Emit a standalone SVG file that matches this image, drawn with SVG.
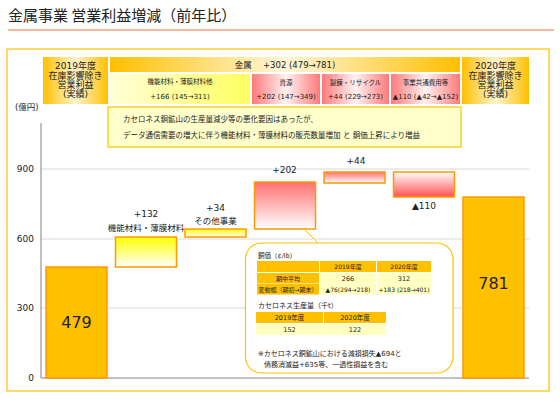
<svg xmlns="http://www.w3.org/2000/svg" width="560" height="416" viewBox="0 0 560 416">
<defs>
<linearGradient id="gGold" x1="0" y1="0" x2="1" y2="0"><stop offset="0" stop-color="#FFC000"/><stop offset="0.5" stop-color="#FFF4D0"/><stop offset="1" stop-color="#FFC000"/></linearGradient>
<linearGradient id="gMetal" x1="0" y1="0" x2="1" y2="0"><stop offset="0" stop-color="#FFC000"/><stop offset="0.5" stop-color="#FFF6DA"/><stop offset="1" stop-color="#FFC000"/></linearGradient>
<linearGradient id="gYelH" x1="0" y1="0" x2="1" y2="0"><stop offset="0" stop-color="#FFFFD8"/><stop offset="1" stop-color="#FFFF60"/></linearGradient>
<linearGradient id="gRedH" x1="0" y1="0" x2="1" y2="0"><stop offset="0" stop-color="#FF7A7A"/><stop offset="0.5" stop-color="#FFF2F2"/><stop offset="1" stop-color="#FF7A7A"/></linearGradient>
<linearGradient id="gYelV" x1="0" y1="0" x2="0" y2="1"><stop offset="0" stop-color="#FFFF00"/><stop offset="1" stop-color="#FFFFFF"/></linearGradient>
<linearGradient id="gRedV" x1="0" y1="0" x2="0" y2="1"><stop offset="0" stop-color="#FF7070"/><stop offset="1" stop-color="#FFFFFF"/></linearGradient>
<linearGradient id="gRedVU" x1="0" y1="0" x2="0" y2="1"><stop offset="0" stop-color="#FFFFFF"/><stop offset="1" stop-color="#FF5050"/></linearGradient>
</defs>
<style>
text{font-family:"DejaVu Sans","Noto Sans CJK JP",sans-serif;fill:#222}
.c{text-anchor:middle}
.r{text-anchor:end}
.bar{stroke:#FF9900;stroke-width:1.5}
.grid{stroke:#D9D9D9;stroke-width:1}
.cellO{fill:#FFC000}
.cellY{fill:#FFFFC0}
</style>
<rect width="560" height="416" fill="#FFFFFF"/>
<g id="title">
<text x="8" y="21" style="font-size:15px;font-family:'Noto Sans CJK JP',sans-serif">金属事業 営業利益増減（前年比）</text>
<line x1="8" y1="30" x2="554" y2="30" stroke="#F4A07A" stroke-width="1.5"/>
</g>
<rect id="frame" x="7" y="49" width="542" height="342" fill="none" stroke="#FFC000" stroke-width="1.2"/>
<g id="axes">
<line class="grid" x1="41" y1="308" x2="529" y2="308"/>
<line class="grid" x1="41" y1="239" x2="529" y2="239"/>
<line class="grid" x1="41" y1="169" x2="529" y2="169"/>
<line x1="41" y1="123" x2="41" y2="378" stroke="#808080" stroke-width="1"/>
<line x1="41" y1="378" x2="529" y2="378" stroke="#808080" stroke-width="1"/>
<text x="34" y="172" class="r" style="font-size:9px">900</text>
<text x="34" y="242" class="r" style="font-size:9px">600</text>
<text x="34" y="311" class="r" style="font-size:9px">300</text>
<text x="34" y="381" class="r" style="font-size:9px">0</text>
<text x="15" y="110" style="font-size:8.5px">(億円)</text>
</g>
<g id="hdr2019">
<rect x="43" y="57" width="65" height="47" fill="url(#gGold)"/>
<text x="75.5" y="69" class="c" style="font-size:9px">2019年度</text>
<text x="75.5" y="79" class="c" style="font-size:9px">在庫影響除き</text>
<text x="75.5" y="88" class="c" style="font-size:9px">営業利益</text>
<text x="75.5" y="97" class="c" style="font-size:9px">(実績)</text>
</g>
<g id="hdrMetal">
<rect x="110" y="57" width="350" height="15" fill="url(#gMetal)"/>
<text x="285" y="68" class="c" style="font-size:8.5px">金属　 +302 (479→781)</text>
</g>
<g id="hdrFunc">
<rect x="110" y="74" width="140" height="30" fill="url(#gYelH)"/>
<text x="180" y="84" class="c" style="font-size:6.5px">機能材料・薄膜材料他</text>
<text x="180" y="99" class="c" style="font-size:7px">+166 (145→311)</text>
</g>
<g id="hdrRes">
<rect x="252" y="74" width="68" height="30" fill="url(#gRedH)"/>
<text x="286" y="85" class="c" style="font-size:6.5px">資源</text>
<text x="286" y="99" class="c" style="font-size:7px">+202 (147→349)</text>
</g>
<g id="hdrSmelt">
<rect x="322" y="74" width="67" height="30" fill="url(#gRedH)"/>
<text x="355.5" y="85" class="c" style="font-size:6.5px">製錬・リサイクル</text>
<text x="355.5" y="99" class="c" style="font-size:7px">+44 (229→273)</text>
</g>
<g id="hdrCommon">
<rect x="391" y="74" width="69" height="30" fill="url(#gRedH)"/>
<text x="425.5" y="85" class="c" style="font-size:6.5px">事業共通費用等</text>
<text x="425.5" y="99" class="c" style="font-size:7px">▲110 (▲42→▲152)</text>
</g>
<g id="hdr2020">
<rect x="462" y="57" width="67" height="47" fill="url(#gGold)"/>
<text x="495.5" y="69" class="c" style="font-size:9px">2020年度</text>
<text x="495.5" y="79" class="c" style="font-size:9px">在庫影響除き</text>
<text x="495.5" y="88" class="c" style="font-size:9px">営業利益</text>
<text x="495.5" y="97" class="c" style="font-size:9px">(実績)</text>
</g>
<g id="note">
<rect x="108" y="107" width="353" height="40" fill="#FFFFCC" stroke="#FFC000" stroke-width="1.2"/>
<text x="123" y="122" style="font-size:7.5px">カセロネス銅鉱山の生産量減少等の悪化要因はあったが、</text>
<text x="123" y="138" style="font-size:7.5px">データ通信需要の増大に伴う機能材料・薄膜材料の販売数量増加 と 銅価上昇により増益</text>
</g>
<g id="bar2019">
<rect class="bar" x="46" y="267" width="61" height="111" fill="#FFC000"/>
<text x="76.5" y="328" class="c" style="font-size:16px">479</text>
</g>
<g id="barFunc">
<rect class="bar" x="115.5" y="237" width="61" height="30" fill="url(#gYelV)"/>
<text x="146" y="217" class="c" style="font-size:9px">+132</text>
<text x="146" y="231" class="c" style="font-size:8.5px">機能材料・薄膜材料</text>
</g>
<g id="barOther">
<rect class="bar" x="185" y="229" width="61" height="8" fill="url(#gYelV)"/>
<text x="215.5" y="211" class="c" style="font-size:9px">+34</text>
<text x="215.5" y="224" class="c" style="font-size:8.5px">その他事業</text>
</g>
<g id="barRes">
<rect class="bar" x="254.5" y="182" width="61" height="47" fill="url(#gRedV)"/>
<text x="284.5" y="173" class="c" style="font-size:9px">+202</text>
</g>
<g id="barSmelt">
<rect class="bar" x="324" y="172" width="61" height="11" fill="url(#gRedV)"/>
<text x="356" y="164" class="c" style="font-size:9px">+44</text>
</g>
<g id="barCommon">
<rect class="bar" x="393.5" y="172" width="61" height="25" fill="url(#gRedVU)"/>
<text x="424" y="209" class="c" style="font-size:9px">▲110</text>
</g>
<g id="bar2020">
<rect class="bar" x="463" y="197" width="61" height="181" fill="#FFC000"/>
<text x="493.5" y="289" class="c" style="font-size:16px">781</text>
</g>
<g id="connectors">
<line x1="304" y1="229" x2="318" y2="243" stroke="#FFC000" stroke-width="1"/>
</g>
<g id="callout">
<rect x="245.5" y="243" width="207.5" height="130" rx="16" fill="#FFFFFF" stroke="#FFC000" stroke-width="1.2"/>
<text x="258" y="258" style="font-size:6.5px">銅価（¢/lb）</text>
<rect class="cellO" x="257" y="261" width="62" height="11"/>
<rect class="cellO" x="320" y="261" width="56" height="11"/>
<rect class="cellO" x="377" y="261" width="54" height="11"/>
<rect class="cellO" x="257" y="273" width="62" height="10.5"/>
<rect class="cellY" x="320" y="273" width="56" height="10.5"/>
<rect class="cellY" x="377" y="273" width="54" height="10.5"/>
<rect class="cellO" x="257" y="284" width="62" height="10.5"/>
<rect class="cellY" x="320" y="284" width="56" height="10.5"/>
<rect class="cellY" x="377" y="284" width="54" height="10.5"/>
<text x="348" y="269" class="c" style="font-size:6px">2019年度</text>
<text x="404" y="269" class="c" style="font-size:6px">2020年度</text>
<text x="288" y="281" class="c" style="font-size:6px">期中平均</text>
<text x="348" y="281" class="c" style="font-size:6.5px">266</text>
<text x="404" y="281" class="c" style="font-size:6.5px">312</text>
<text x="288" y="292" class="c" style="font-size:6px">変動幅（期初→期末）</text>
<text x="348" y="292" class="c" style="font-size:6px">▲76(294→218)</text>
<text x="404" y="292" class="c" style="font-size:6px">+183 (218→401)</text>
<text x="258" y="308" style="font-size:7px">カセロネス生産量（千t）</text>
<rect class="cellO" x="256" y="312" width="67" height="11"/>
<rect class="cellO" x="324" y="312" width="62" height="11"/>
<rect class="cellY" x="256" y="324" width="67" height="11"/>
<rect class="cellY" x="324" y="324" width="62" height="11"/>
<text x="289.5" y="320" class="c" style="font-size:6.5px">2019年度</text>
<text x="355" y="320" class="c" style="font-size:6.5px">2020年度</text>
<text x="289.5" y="332" class="c" style="font-size:6.5px">152</text>
<text x="355" y="332" class="c" style="font-size:6.5px">122</text>
<text x="258" y="356" style="font-size:7px">※カセロネス銅鉱山における減損損失▲694と</text>
<text x="264" y="367" style="font-size:7px">債務消滅益+635等、一過性損益を含む</text>
</g>
</svg>
